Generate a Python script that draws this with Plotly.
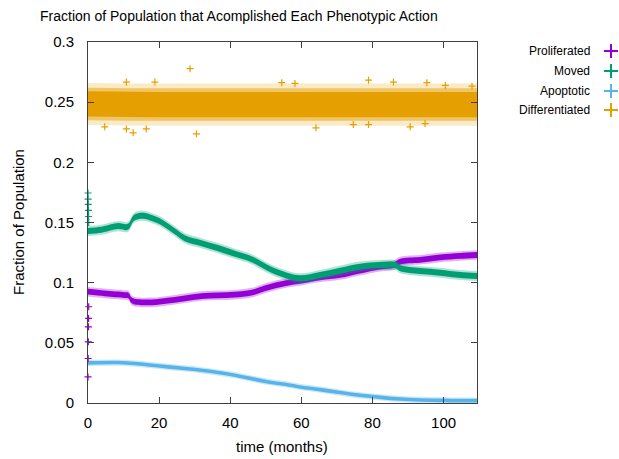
import plotly.graph_objects as go

# ---- data: fraction of population per phenotypic action over time (months) ----
moved_t = [0, 3.8, 8.5, 10.8, 11.5, 13.0, 15.5, 17.9, 20.2, 22.5, 24.9, 27.2, 31.9, 36.6,
           41.3, 46, 50.7, 55.4, 59.6, 65.3, 70.9, 76.5, 82.2, 86.5, 87.8, 93.4, 99, 104.7, 109.4]
moved_v = [0.143, 0.144, 0.147, 0.146, 0.147, 0.154, 0.1556, 0.1537, 0.151, 0.1467, 0.1417,
           0.137, 0.1328, 0.1287, 0.124, 0.1195, 0.112, 0.1064, 0.1036, 0.1064, 0.110, 0.1133,
           0.1147, 0.1145, 0.112, 0.1097, 0.1083, 0.1064, 0.1056]

prolif_t = [0, 4.7, 10.3, 11.4, 12.4, 17.9, 22.5, 27.2, 31.9, 36.6, 41.3, 46, 50.7, 55.4,
            59.6, 65.3, 70.9, 76.5, 82.2, 86, 87.8, 93.4, 99, 104.7, 109.4]
prolif_v = [0.0925, 0.0911, 0.0897, 0.0893, 0.085, 0.0836, 0.085, 0.087, 0.0889, 0.0895,
            0.090, 0.0917, 0.0961, 0.0995, 0.1014, 0.1045, 0.1064, 0.110, 0.1133, 0.1145,
            0.1175, 0.119, 0.121, 0.1222, 0.123]

apopt_t = [0, 8.5, 13.2, 17.9, 22.5, 27.2, 31.9, 36.6, 41.3, 46, 50.7, 55.4, 59.6, 65.3,
           70.9, 76.5, 82.2, 87.8, 93.4, 99, 104.7, 109.4]
apopt_v = [0.0333, 0.0336, 0.0328, 0.0314, 0.030, 0.0287, 0.0272, 0.0253, 0.0231, 0.0203,
           0.0175, 0.0156, 0.0133, 0.0111, 0.0087, 0.0064, 0.0047, 0.0033, 0.0025, 0.0022,
           0.002, 0.002]

diff_t = [0, 20, 40, 60, 80, 100, 109.4]
diff_v = [0.2485, 0.248, 0.248, 0.248, 0.248, 0.248, 0.248]

# scatter half-widths of each band, from the sparse edge inwards, with fill alpha
moved_spread = [(0.0042, 0.3), (0.0025, 1.0)]
prolif_spread = [(0.0040, 0.3), (0.0024, 1.0)]
apopt_spread = [(0.0026, 0.3), (0.0015, 1.0)]
diff_spread = [(0.0175, 0.22), (0.0135, 0.5), (0.0105, 1.0)]

# start-up transient samples at the very beginning of the run
start_t = [0.0, 0.04, 0.08, 0.12, 0.16, 0.2]
moved_start = [0.1745, 0.1695, 0.165, 0.160, 0.155, 0.150]
prolif_start = [0.0217, 0.037, 0.0508, 0.0633, 0.0703, 0.080]

# isolated samples of the differentiated series outside its dense band
diff_out_t = [28.7, 12.7, 30.5, 10.8, 16.4, 4.7, 10.8, 18.8, 78.9, 64.1, 95.3, 90.6,
              85.9, 100.5, 58.2, 54.5, 74.6, 78.9, 94.8, 108.0]
diff_out_v = [0.2778, 0.2245, 0.2237, 0.2278, 0.2278, 0.2295, 0.2667, 0.2667, 0.2683,
              0.2287, 0.2662, 0.2295, 0.2667, 0.2639, 0.2656, 0.2662, 0.2314, 0.2314,
              0.2322, 0.2633]

names = ["Proliferated", "Moved", "Apoptotic", "Differentiated"]
colors = ["#9400d3", "#009e73", "#56b4e9", "#e69f00"]

# ---- layout geometry (pixels) ----
W, H = 619, 459
L, R, T, B = 88, 0, 42, 56
PLOT_RIGHT = 477
FONT = "Liberation Sans"
AXIS_COLOR = "#404040"


def px_x(x):
    return (x - L) / (W - L - R)


def px_y(y):
    return (H - B - y) / (H - B - T)


def rgba(hex_color, a):
    h = hex_color.lstrip("#")
    r, g, b = int(h[0:2], 16), int(h[2:4], 16), int(h[4:6], 16)
    return f"rgba({r},{g},{b},{a})"


fig = go.Figure()


def band(t, v, spread, color, alpha):
    lo = [c - spread for c in v]
    hi = [c + spread for c in v]
    fig.add_trace(go.Scatter(x=t, y=lo, mode="lines", line=dict(width=0, shape="spline"),
                             hoverinfo="skip", showlegend=False))
    fig.add_trace(go.Scatter(x=t, y=hi, mode="lines", line=dict(width=0, shape="spline"),
                             fill="tonexty", fillcolor=rgba(color, alpha),
                             hoverinfo="skip", showlegend=False))


series = [
    (diff_t, diff_v, diff_spread, colors[3]),
    (prolif_t, prolif_v, prolif_spread, colors[0]),
    (moved_t, moved_v, moved_spread, colors[1]),
    (apopt_t, apopt_v, apopt_spread, colors[2]),
]
for t, v, layers, col in series:
    for spread, alpha in layers:
        band(t, v, spread, col, alpha)


def crosses(x, y, color):
    fig.add_trace(go.Scatter(x=x, y=y, mode="markers", cliponaxis=False,
                             marker=dict(symbol="cross-thin", size=5, color=color,
                                         line=dict(width=1.2, color=color)),
                             showlegend=False, hoverinfo="skip"))


crosses(diff_out_t, diff_out_v, colors[3])
crosses(start_t, moved_start, colors[1])
crosses(start_t, prolif_start, colors[0])

# key: labels right-aligned with a cross to their right
key_y = [51, 71, 91, 110]
fig.add_trace(go.Scatter(
    x=[px_x(611)] * 4, y=[px_y(y) for y in key_y], xaxis="x2", yaxis="y2",
    mode="markers", cliponaxis=False, showlegend=False, hoverinfo="skip",
    marker=dict(symbol="cross-thin", size=10, color=colors,
                line=dict(width=2, color=colors))))

annotations = []
for name, y in zip(names, key_y):
    annotations.append(dict(text=name, x=px_x(592), y=px_y(y), xref="paper", yref="paper",
                            xanchor="right", yanchor="middle", showarrow=False,
                            font=dict(family=FONT, size=12, color="black")))
annotations.append(dict(text="Fraction of Population", textangle=-90,
                        x=px_x(18), y=px_y(222), xref="paper", yref="paper",
                        xanchor="center", yanchor="middle", showarrow=False,
                        font=dict(family=FONT, size=15, color="black")))
annotations.append(dict(text="time (months)", x=px_x(282), y=px_y(446),
                        xref="paper", yref="paper", xanchor="center", yanchor="middle",
                        showarrow=False, font=dict(family=FONT, size=15, color="black")))
annotations.append(dict(text="Fraction of Population that Acomplished Each Phenotypic Action",
                        x=px_x(239), y=px_y(16), xref="paper", yref="paper",
                        xanchor="center", yanchor="middle", showarrow=False,
                        font=dict(family=FONT, size=14, color="black")))

axis_common = dict(showline=True, linecolor=AXIS_COLOR, linewidth=1, mirror="ticks",
                   ticks="inside", ticklen=6, tickcolor=AXIS_COLOR, tickwidth=1,
                   showgrid=False, zeroline=False,
                   tickfont=dict(family=FONT, size=15, color="black"))

fig.update_layout(
    width=W, height=H,
    margin=dict(l=L, r=R, t=T, b=B, autoexpand=False),
    paper_bgcolor="white", plot_bgcolor="rgba(0,0,0,0)",
    showlegend=False,
    xaxis=dict(axis_common, range=[0, 109.4], dtick=20, tick0=0,
               domain=[0, px_x(PLOT_RIGHT)], ticklabelstandoff=6),
    yaxis=dict(axis_common, range=[0, 0.3], dtick=0.05, tick0=0,
               ticklabelstandoff=10),
    xaxis2=dict(domain=[0, 1], range=[0, 1], visible=False, anchor="y2"),
    yaxis2=dict(domain=[0, 1], range=[0, 1], visible=False, anchor="x2"),
    annotations=annotations,
)

fig.write_html("out.html")
